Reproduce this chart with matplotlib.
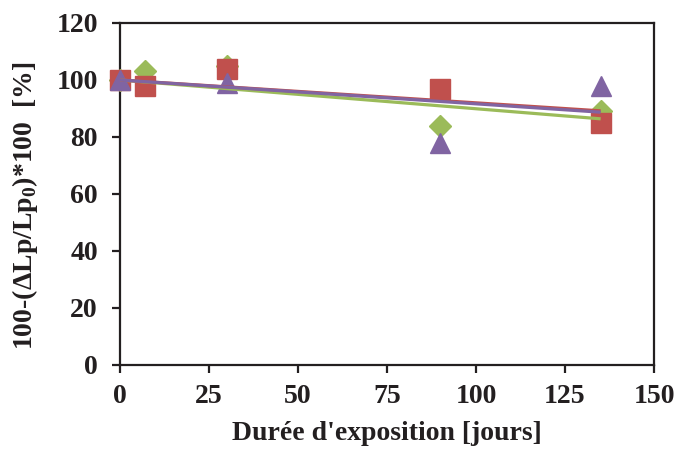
"""Relative Lp retention vs exposure time, with linear trend lines."""

import matplotlib
matplotlib.use("Agg")
import matplotlib.pyplot as plt
import numpy as np

# --------------------------------------------------
# data
# --------------------------------------------------
days_green = [0, 7, 30, 90, 135]
vals_green = [100, 103, 105, 84, 89]

days_red = [0, 7, 30, 90, 135]
vals_red = [100, 98, 104, 97, 85]

days_purple = [0, 30, 90, 135]
vals_purple = [100, 99, 78, 98]

# trend lines are forced through this intercept
intercept = 100

x_ticks = [0, 25, 50, 75, 100, 125, 150]
y_ticks = [0, 20, 40, 60, 80, 100, 120]

green = "#9BBB59"
red = "#C0504D"
purple = "#8064A2"
ink = "#231F20"

plt.rcParams["font.family"] = ["Liberation Serif", "DejaVu Serif"]
plt.rcParams["font.weight"] = "bold"
plt.rcParams["mathtext.fontset"] = "custom"
plt.rcParams["mathtext.rm"] = "Liberation Serif:bold"
plt.rcParams["mathtext.bf"] = "Liberation Serif:bold"

fig = plt.figure(figsize=(6.77, 4.53), dpi=100)
ax = fig.add_axes([0.1773, 0.1943, 0.7888, 0.755])

series = [
    (days_green, vals_green, green, "D", 11),
    (days_red, vals_red, red, "s", 14.5),
    (days_purple, vals_purple, purple, "^", 15),
]

# markers first, trend lines on top (as in the original)
for i, (xs, ys, col, mk, ms) in enumerate(series):
    ax.plot(xs, ys, linestyle="none", marker=mk, markersize=ms,
            color=col, markeredgecolor=col, zorder=3 + i, clip_on=False)

for i, (xs, ys, col, mk, ms) in enumerate(series):
    xs = np.asarray(xs, dtype=float)
    ys = np.asarray(ys, dtype=float)
    k = np.sum(xs * (ys - intercept)) / np.sum(xs * xs)
    xx = np.array([xs.min(), xs.max()])
    ax.plot(xx, k * xx + intercept, color=col, linewidth=2.3, zorder=7 + i,
            solid_capstyle="butt")

ax.set_xlim(0, 150)
ax.set_ylim(0, 120)
ax.set_xticks(x_ticks)
ax.set_yticks(y_ticks)

for sp in ax.spines.values():
    sp.set_linewidth(1.6)
    sp.set_color(ink)

ax.tick_params(axis="both", direction="out", length=6, width=1.6,
               labelsize=20, colors=ink)
ax.tick_params(axis="x", pad=8)
ax.tick_params(axis="y", pad=10)

ax.set_xlabel("Durée d'exposition [jours]", fontsize=20, fontweight="bold",
              color=ink, labelpad=8)
ax.set_ylabel(r"100-($\Delta$Lp/Lp$_0$)*100  [%]", fontsize=20,
              fontweight="bold", color=ink)
ax.yaxis.set_label_coords(-0.15, 0.465)

fig.savefig("out.png", dpi=100)
